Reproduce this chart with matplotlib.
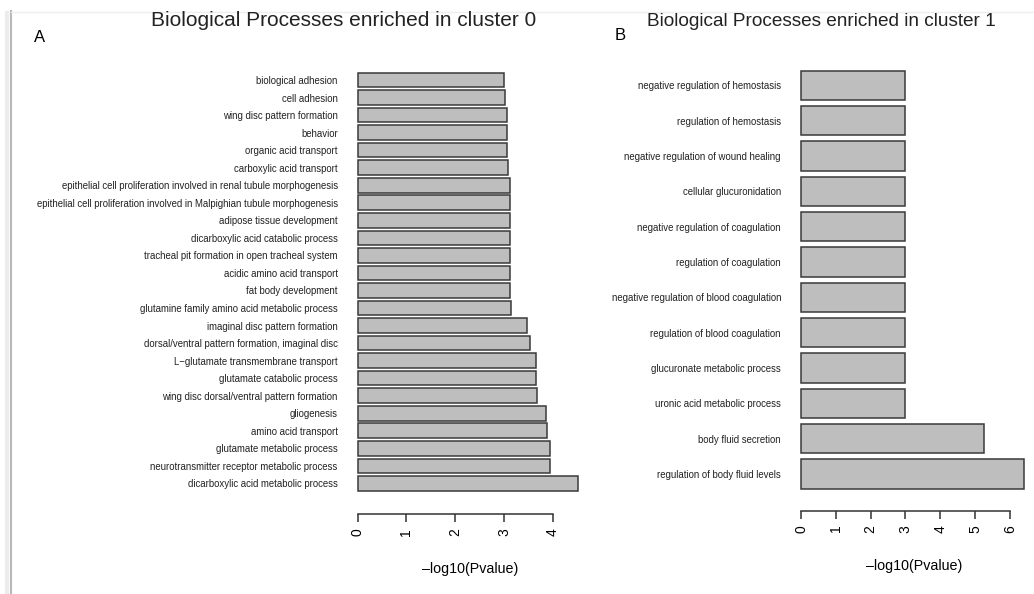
import matplotlib.pyplot as plt
from matplotlib.lines import Line2D

plt.rcParams['font.family'] = ['Liberation Sans', 'DejaVu Sans']

# cluster 0 terms, listed from the bottom bar to the top bar
terms0 = [
    "dicarboxylic acid metabolic process",
    "neurotransmitter receptor metabolic process",
    "glutamate metabolic process",
    "amino acid transport",
    "gliogenesis",
    "wing disc dorsal/ventral pattern formation",
    "glutamate catabolic process",
    "L\u2212glutamate transmembrane transport",
    "dorsal/ventral pattern formation, imaginal disc",
    "imaginal disc pattern formation",
    "glutamine family amino acid metabolic process",
    "fat body development",
    "acidic amino acid transport",
    "tracheal pit formation in open tracheal system",
    "dicarboxylic acid catabolic process",
    "adipose tissue development",
    "epithelial cell proliferation involved in Malpighian tubule morphogenesis",
    "epithelial cell proliferation involved in renal tubule morphogenesis",
    "carboxylic acid transport",
    "organic acid transport",
    "behavior",
    "wing disc pattern formation",
    "cell adhesion",
    "biological adhesion",
]
logp0 = [4.51, 3.95, 3.95, 3.89, 3.86, 3.67, 3.65, 3.65, 3.53, 3.48,
         3.14, 3.12, 3.12, 3.12, 3.12, 3.12, 3.12, 3.12, 3.09, 3.07,
         3.07, 3.06, 3.03, 3.01]

# cluster 1 terms, bottom to top
terms1 = [
    "regulation of body fluid levels",
    "body fluid secretion",
    "uronic acid metabolic process",
    "glucuronate metabolic process",
    "regulation of blood coagulation",
    "negative regulation of blood coagulation",
    "regulation of coagulation",
    "negative regulation of coagulation",
    "cellular glucuronidation",
    "negative regulation of wound healing",
    "regulation of hemostasis",
    "negative regulation of hemostasis",
]
logp1 = [6.39, 5.26, 3.0, 3.0, 3.0, 3.0, 3.0, 3.0, 3.0, 3.0, 3.0, 3.0]

W, H = 1034, 594
fig = plt.figure(figsize=(W / 100, H / 100), dpi=100)


def px_axes(x0, y0, x1, y1):
    # axes from pixel box (top-left origin)
    return fig.add_axes([x0 / W, 1 - y1 / H, (x1 - x0) / W, (y1 - y0) / H])


def barpanel(ax, terms, vals, xmax, ticks, offset, labelpad):
    n = len(terms)
    pos = list(range(n))
    bars = ax.barh(pos, vals, height=1 / 1.2, color="#bebebe",
                   edgecolor="#3a3a3a", linewidth=1.1)
    for b in bars:
        b.set_clip_on(False)
    ax.set_ylim(-0.5 / 1.2, n - 1 + 0.5 / 1.2)
    ax.set_xlim(0, xmax)
    ax.set_yticks(pos)
    ax.set_yticklabels(terms, fontsize=6.9, color="#222222")
    ax.tick_params(axis="y", length=0, pad=14.4)
    for s in ("top", "right", "left"):
        ax.spines[s].set_visible(False)
    ax.spines["bottom"].set_position(("outward", offset))
    ax.spines["bottom"].set_bounds(ticks[0], ticks[-1])
    ax.spines["bottom"].set_color("#333333")
    ax.spines["bottom"].set_linewidth(1.1)
    ax.set_xticks(ticks)
    ax.set_xticklabels([str(t) for t in ticks], rotation=90, fontsize=10)
    ax.tick_params(axis="x", length=6, width=1.1, color="#333333", pad=4)
    ax.set_xlabel("\u2013log10(Pvalue)", fontsize=10.3, labelpad=labelpad)


ax0 = px_axes(357.7, 72.7, 357.7 + 4.6 * 48.75, 490.7)
barpanel(ax0, terms0, logp0, 4.6, [0, 1, 2, 3, 4], 17, 19)

ax1 = px_axes(801, 70.7, 801 + 6.5 * 34.83, 488.7)
barpanel(ax1, terms1, logp1, 6.5, [0, 1, 2, 3, 4, 5, 6], 16, 19)

fig.text(344 / W, 1 - 21 / H, "Biological Processes enriched in cluster 0",
         fontsize=15, ha="center", va="center", color="#222222")
fig.text(821 / W, 1 - 22 / H, "Biological Processes enriched in cluster 1",
         fontsize=13.7, ha="center", va="center", color="#222222")
fig.text(40 / W, 1 - 37 / H, "A", fontsize=12, ha="center", va="center")
fig.text(620 / W, 1 - 35 / H, "B", fontsize=12, ha="center", va="center")

# window frame edges
fig.add_artist(Line2D([10.5 / W, 10.5 / W], [0, 1 - 11 / H],
                      transform=fig.transFigure, color="#b8b8b8", lw=1.5))
fig.add_artist(Line2D([7 / W, 7 / W], [0, 1 - 13 / H],
                      transform=fig.transFigure, color="#ececec", lw=3))
fig.add_artist(Line2D([11 / W, 1], [1 - 11.5 / H, 1 - 11.5 / H],
                      transform=fig.transFigure, color="#eeeeee", lw=1))

fig.savefig("out.png", dpi=100)
